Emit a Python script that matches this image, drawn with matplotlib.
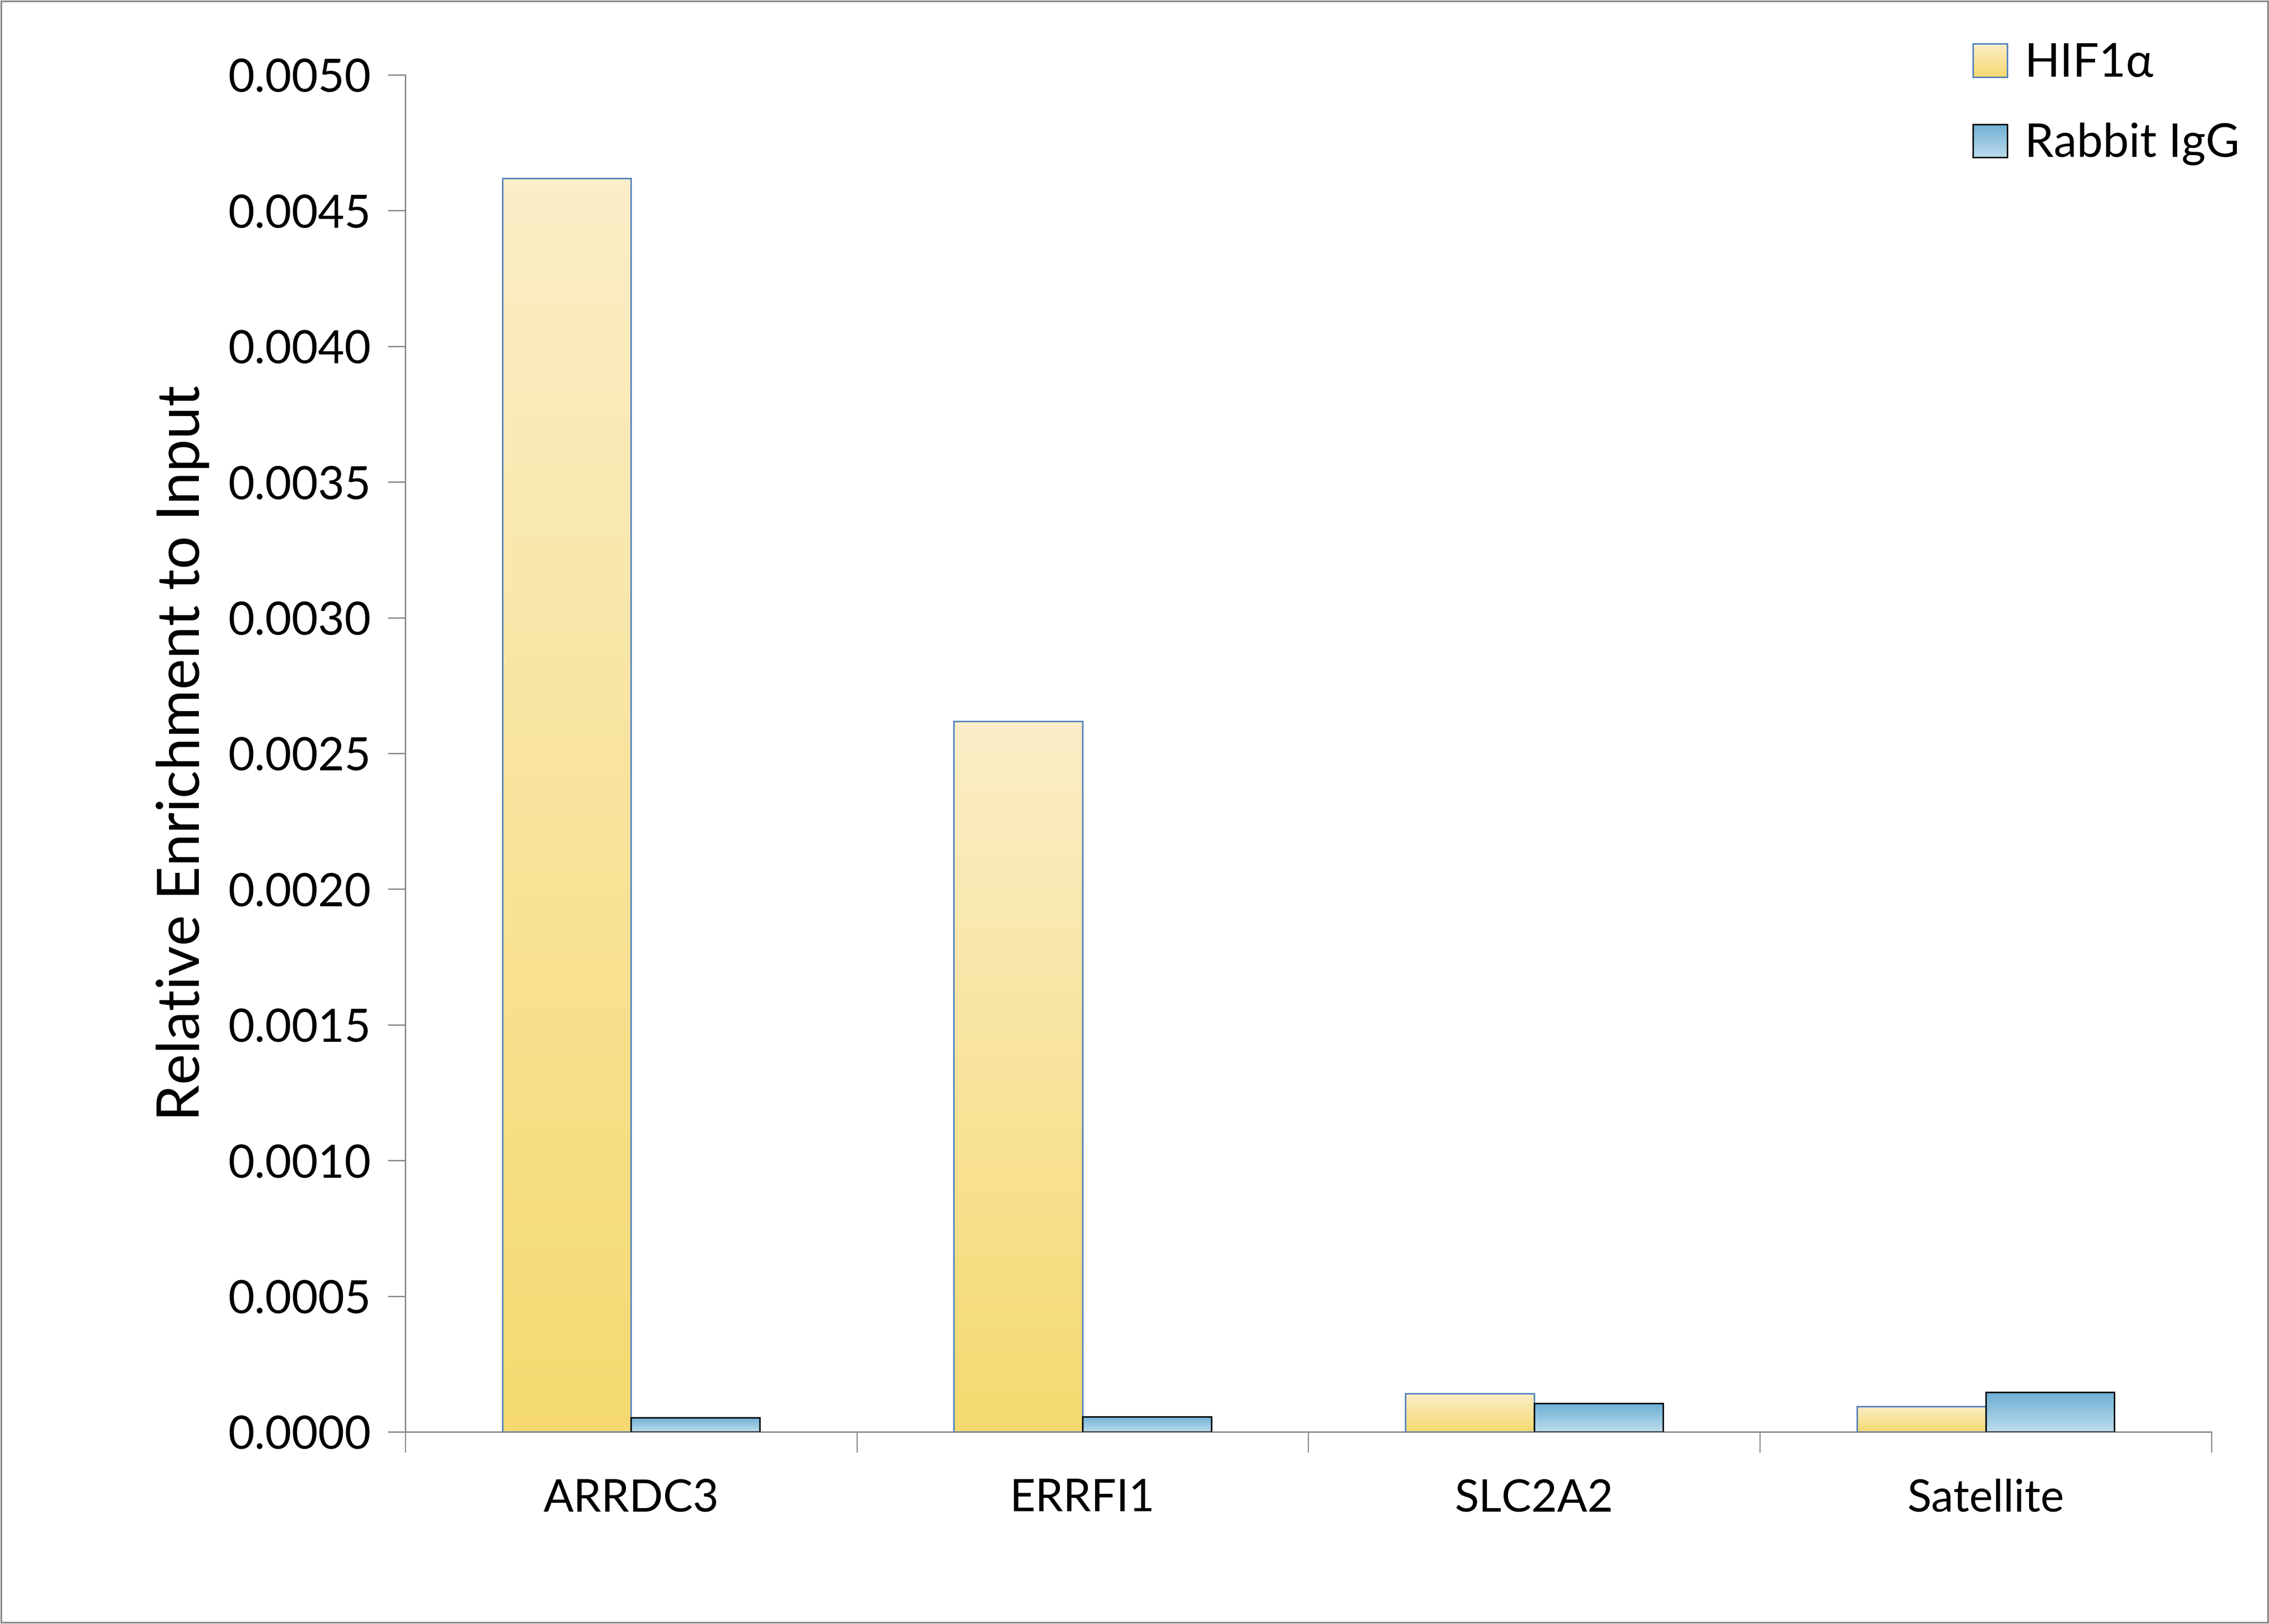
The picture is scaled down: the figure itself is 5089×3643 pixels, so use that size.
import numpy as np
import matplotlib
matplotlib.use("Agg")
import matplotlib.pyplot as plt
from matplotlib.colors import LinearSegmentedColormap
from matplotlib.patches import Rectangle
from matplotlib.legend_handler import HandlerBase
from matplotlib.image import BboxImage
from matplotlib.transforms import Bbox, TransformedBbox

categories = ["ARRDC3", "ERRFI1", "SLC2A2", "Satellite"]
hif1a = [0.004619, 0.002618, 0.000141, 0.000094]
rabbit_igg = [0.000053, 0.000056, 0.000105, 0.000146]
series_names = ["HIF1\u03b1", "Rabbit IgG"]
yticks = [0.0, 0.0005, 0.0010, 0.0015, 0.0020, 0.0025, 0.0030, 0.0035, 0.0040, 0.0045, 0.0050]

plt.rcParams['font.family'] = ['Lato', 'DejaVu Sans']

yellow_cmap = LinearSegmentedColormap.from_list("yel", ["#F5D970", "#FBEEC8"])   # bottom -> top
blue_cmap = LinearSegmentedColormap.from_list("blu", ["#BCDCEC", "#6DAFD5"])     # bottom -> top
grad = np.linspace(0, 1, 256).reshape(-1, 1)

W, H = 5090, 3643
dpi = 300
fig = plt.figure(figsize=(W / dpi, H / dpi), dpi=dpi)
fig.patch.set_facecolor("white")
ax = fig.add_axes([909 / W, 1 - 3212 / H, (4960 - 909) / W, (3212 - 168) / H])

x = np.arange(len(categories))
bw = 0.285
gray = "#868686"

def gradient_bars(xpos, vals, cmap, edge):
    bars = ax.bar(xpos, vals, width=bw, align='edge', facecolor='none',
                  edgecolor=edge, linewidth=0.8, zorder=3)
    for r in bars:
        x0, w, h = r.get_x(), r.get_width(), r.get_height()
        im = ax.imshow(grad, cmap=cmap, origin='lower', aspect='auto',
                       extent=[x0, x0 + w, 0, h], interpolation='bicubic', zorder=2)
        im.set_clip_path(r)
    return bars

gradient_bars(x - bw, hif1a, yellow_cmap, "#4F81BD")
gradient_bars(x, rabbit_igg, blue_cmap, "#000000")

ax.set_xlim(-0.5, len(categories) - 0.5)
ax.set_ylim(0, 0.005)
ax.set_yticks(yticks)
ax.set_yticklabels([f"{v:.4f}" for v in yticks], fontsize=24.5)
ax.set_xticks(x)
ax.set_xticklabels(categories, fontsize=24)
ax.set_xticks(np.arange(-0.5, len(categories), 1.0), minor=True)
ax.tick_params(axis='x', which='major', length=0, pad=25)
ax.tick_params(axis='x', which='minor', length=11, width=0.6, color=gray)
ax.tick_params(axis='y', which='major', length=9.4, width=0.7, color=gray, pad=9)

for s in ["top", "right"]:
    ax.spines[s].set_visible(False)
for s in ["left", "bottom"]:
    ax.spines[s].set_color(gray)
    ax.spines[s].set_linewidth(0.75)
ax.set_ylabel("Relative Enrichment to Input", fontsize=31.5, labelpad=10)


class GradHandler(HandlerBase):
    def __init__(self, cmap, edge):
        super().__init__()
        self.cmap = cmap
        self.edge = edge

    def create_artists(self, legend, orig_handle, xdescent, ydescent, width, height, fontsize, trans):
        bb = Bbox.from_bounds(-xdescent, -ydescent, width, height)
        img = BboxImage(TransformedBbox(bb, trans), cmap=self.cmap, interpolation='bicubic', origin='lower')
        img.set_data(grad)
        rect = Rectangle((-xdescent, -ydescent), width, height, facecolor='none',
                         edgecolor=self.edge, linewidth=0.8, transform=trans)
        return [img, rect]


h1 = Rectangle((0, 0), 1, 1)
h2 = Rectangle((0, 0), 1, 1)
leg = fig.legend([h1, h2], series_names, loc='upper left',
                 bbox_to_anchor=(4425 / W, 1 - 95 / H), frameon=False, fontsize=25,
                 handlelength=0.74, handleheight=0.72, handletextpad=0.37,
                 labelspacing=0.82, borderpad=0, borderaxespad=0,
                 handler_map={h1: GradHandler(yellow_cmap, "#4F81BD"),
                              h2: GradHandler(blue_cmap, "#000000")})

fig.patches.append(Rectangle((0.0005, 0.0007), 0.999, 0.9986, transform=fig.transFigure,
                             facecolor='none', edgecolor=gray, linewidth=0.9))

fig.savefig("out.png", dpi=dpi)
